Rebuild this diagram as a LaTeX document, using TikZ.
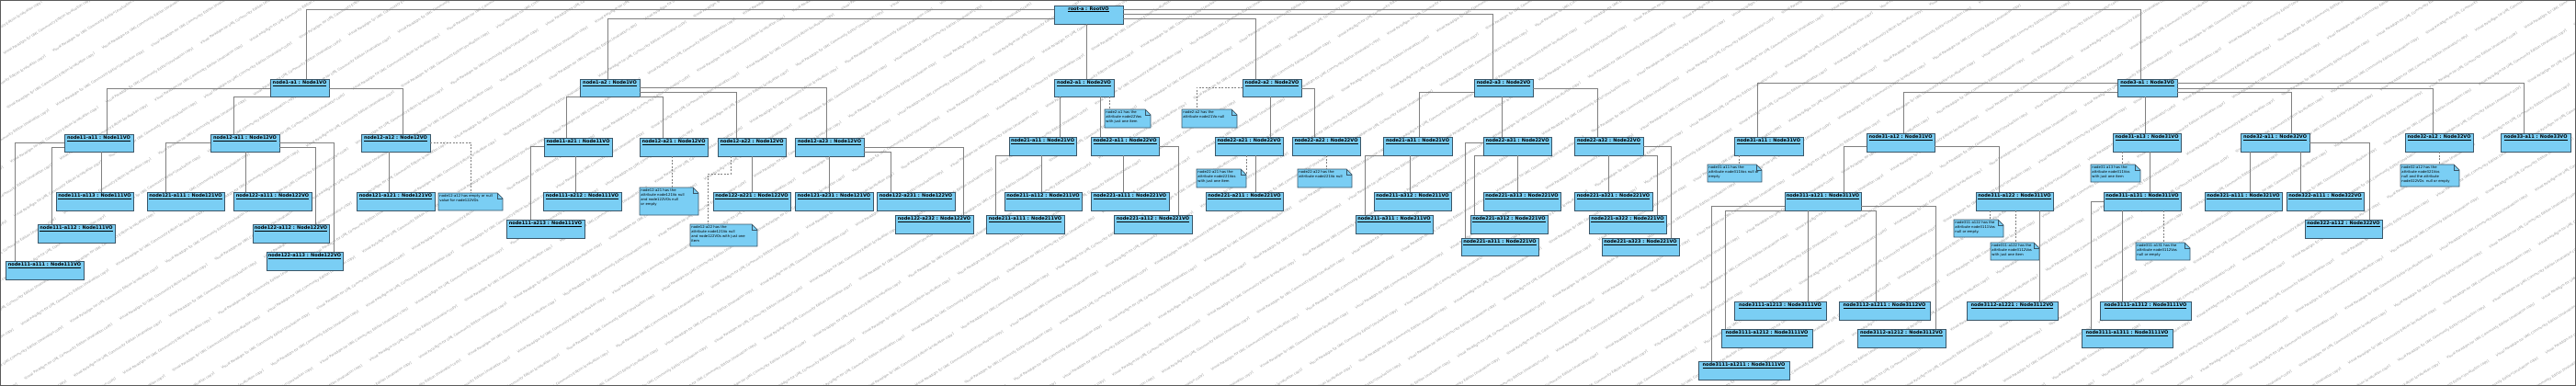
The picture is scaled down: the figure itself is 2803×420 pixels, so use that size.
\documentclass[tikz,border=0pt]{standalone}
\usepackage{fontspec}
\setmainfont{DejaVu Sans}
\definecolor{objfill}{RGB}{122,206,244}
\definecolor{objline}{RGB}{58,86,104}
\definecolor{connline}{RGB}{128,128,128}
\definecolor{wmark}{RGB}{150,150,150}
\definecolor{frameline}{RGB}{90,90,90}
\tikzset{
  objbox/.style={anchor=north west, draw=objline, fill=objfill, line width=0.8pt, inner sep=0pt, outer sep=0pt},
  objlbl/.style={anchor=north, inner sep=0pt, yshift=-1.3pt, font=\bfseries\fontsize{5}{6}\selectfont},
  notebg/.style={anchor=north west, inner sep=0pt, outer sep=0pt},
  notelbl/.style={anchor=north west, inner sep=0pt, xshift=1.2pt, yshift=-1.3pt, align=left, font=\fontsize{3.8}{5}\selectfont},
  noteshape/.style={draw=objline, fill=objfill, line width=0.7pt},
  conn/.style={draw=connline, line width=0.9pt},
  notelink/.style={draw=connline, line width=0.8pt, dash pattern=on 2pt off 1.5pt},
  wm/.style={rotate=32, anchor=west, inner sep=0pt, text=wmark, font=\fontsize{3.6}{4}\selectfont}
}
\newcommand\mkobj[6]{%
  \node[objbox, minimum width={(#4-#2)*1pt}, minimum height={(#5-#3)*1pt}] (#1) at (#2,#3) {};
  \node[objlbl] (#1-t) at (#1.north) {\underline{#6}};
}
\newcommand\mknote[6]{%
  \node[notebg, minimum width={(#4-#2)*1pt}, minimum height={(#5-#3)*1pt}] (#1) at (#2,#3) {};
  \path[noteshape] (#1.north west) -- ([xshift=-6pt]#1.north east) -- ([yshift=-6pt]#1.north east) -- (#1.south east) -- (#1.south west) -- cycle;
  \draw[objline, line width=0.5pt] ([xshift=-6pt]#1.north east) -- ([xshift=-6pt,yshift=-6pt]#1.north east) -- ([yshift=-6pt]#1.north east);
  \node[notelbl] (#1-t) at (#1.north west) {#6};
}
\begin{document}
\begin{tikzpicture}[x=1pt, y=-1pt]
\useasboundingbox (0,0) rectangle (2803,420);
\fill[white] (0,0) rectangle (2803,420);
% watermark
\begin{scope}
\clip (1,1) rectangle (2802,419);
\foreach \r in {0,...,70} {
  \foreach \c in {-4,...,21} {
    \pgfmathsetmacro\uu{\c*122 + mod(\r*47,122)}
    \pgfmathsetmacro\vv{\r*26}
    \pgfmathsetmacro\px{0.848*\uu + 0.530*\vv}
    \pgfmathsetmacro\py{-0.530*\uu + 0.848*\vv}
    \node[wm] (wm-\r-\c) at (\px,\py) {Visual Paradigm for UML Community Edition [evaluation copy]};
  }
}
\end{scope}
\draw[frameline, line width=1pt] (0.5,0.5) rectangle (2802.5,419.5);

% ---------------- objects ----------------
\mkobj{root}{1147}{6}{1222}{26}{root-a : RootVO}
\mkobj{n1a1}{294}{86}{358}{105}{node1-a1 : Node1VO}
\mkobj{n1a2}{631}{86}{696}{105}{node1-a2 : Node1VO}
\mkobj{n2a1}{1147}{86}{1212}{105}{node2-a1 : Node2VO}
\mkobj{n2a2}{1352}{86}{1416}{105}{node2-a2 : Node2VO}
\mkobj{n2a3}{1604}{86}{1668}{105}{node2-a3 : Node2VO}
\mkobj{n3a1}{2304}{86}{2369}{105}{node3-a1 : Node3VO}

\mkobj{n11a11}{70}{146}{145}{165}{node11-a11 : Node11VO}
\mkobj{n12a11}{229}{146}{304}{165}{node12-a11 : Node12VO}
\mkobj{n12a12}{393}{146}{468}{165}{node12-a12 : Node12VO}
\mkobj{n111a113}{61}{209}{145}{229}{node111-a113 : Node111VO}
\mkobj{n111a112}{41}{244}{125}{264}{node111-a112 : Node111VO}
\mkobj{n111a111}{6}{284}{91}{304}{node111-a111 : Node111VO}
\mkobj{n121a111}{160}{209}{244}{229}{node121-a111 : Node121VO}
\mkobj{n122a111}{254}{209}{339}{229}{node122-a111 : Node122VO}
\mkobj{n122a112}{275}{244}{358}{264}{node122-a112 : Node122VO}
\mkobj{n122a113}{290}{274}{373}{294}{node122-a113 : Node122VO}
\mkobj{n121a121}{388}{209}{473}{229}{node121-a121 : Node121VO}

\mkobj{n11a21}{592}{150}{666}{170}{node11-a21 : Node11VO}
\mkobj{n12a21}{696}{150}{770}{170}{node12-a21 : Node12VO}
\mkobj{n12a22}{781}{150}{855}{170}{node12-a22 : Node12VO}
\mkobj{n12a23}{865}{150}{940}{170}{node12-a23 : Node12VO}
\mkobj{n111a212}{591}{209}{676}{229}{node111-a212 : Node111VO}
\mkobj{n111a213}{551}{239}{636}{259}{node111-a213 : Node111VO}
\mkobj{n122a221}{776}{209}{860}{229}{node122-a221 : Node122VO}
\mkobj{n121a231}{865}{209}{950}{229}{node121-a231 : Node121VO}
\mkobj{n122a231}{954}{209}{1039}{229}{node122-a231 : Node122VO}
\mkobj{n122a232}{974}{234}{1059}{254}{node122-a232 : Node122VO}

\mkobj{n21a11}{1098}{149}{1171}{169}{node21-a11 : Node21VO}
\mkobj{n22a11}{1187}{149}{1261}{169}{node22-a11 : Node22VO}
\mkobj{n211a112}{1093}{209}{1177}{229}{node211-a112 : Node211VO}
\mkobj{n211a111}{1073}{234}{1158}{254}{node211-a111 : Node211VO}
\mkobj{n221a111}{1187}{209}{1272}{229}{node221-a111 : Node221VO}
\mkobj{n221a112}{1212}{234}{1297}{254}{node221-a112 : Node221VO}

\mkobj{n22a21}{1322}{149}{1396}{169}{node22-a21 : Node22VO}
\mkobj{n22a22}{1406}{149}{1480}{169}{node22-a22 : Node22VO}
\mkobj{n221a211}{1312}{209}{1396}{229}{node221-a211 : Node221VO}

\mkobj{n21a31}{1505}{149}{1580}{169}{node21-a31 : Node21VO}
\mkobj{n22a31}{1614}{149}{1688}{169}{node22-a31 : Node22VO}
\mkobj{n22a32}{1713}{149}{1788}{169}{node22-a32 : Node22VO}
\mkobj{n211a312}{1495}{209}{1579}{229}{node211-a312 : Node211VO}
\mkobj{n211a311}{1475}{234}{1559}{254}{node211-a311 : Node211VO}
\mkobj{n221a313}{1614}{209}{1698}{229}{node221-a313 : Node221VO}
\mkobj{n221a312}{1600}{234}{1684}{254}{node221-a312 : Node221VO}
\mkobj{n221a311}{1590}{259}{1674}{278}{node221-a311 : Node221VO}
\mkobj{n221a321}{1713}{209}{1798}{229}{node221-a321 : Node221VO}
\mkobj{n221a322}{1729}{234}{1813}{254}{node221-a322 : Node221VO}
\mkobj{n221a323}{1743}{259}{1827}{278}{node221-a323 : Node221VO}

\mkobj{n31a11}{1887}{149}{1962}{169}{node31-a11 : Node31VO}
\mkobj{n31a12}{2031}{145}{2105}{165}{node31-a12 : Node31VO}
\mkobj{n31a13}{2299}{145}{2373}{165}{node31-a13 : Node31VO}
\mkobj{n32a11}{2438}{145}{2513}{165}{node32-a11 : Node32VO}
\mkobj{n32a12}{2617}{145}{2691}{165}{node32-a12 : Node32VO}
\mkobj{n33a11}{2721}{145}{2797}{165}{node33-a11 : Node33VO}
\mkobj{n311a121}{1942}{209}{2025}{229}{node311-a121 : Node311VO}
\mkobj{n311a122}{2150}{209}{2234}{229}{node311-a122 : Node311VO}
\mkobj{n311a131}{2289}{209}{2373}{229}{node311-a131 : Node311VO}
\mkobj{n321a111}{2399}{209}{2483}{229}{node321-a111 : Node321VO}
\mkobj{n322a111}{2488}{209}{2572}{229}{node322-a111 : Node322VO}
\mkobj{n322a112}{2508}{239}{2592}{259}{node322-a112 : Node322VO}
\mkobj{n3111a1213}{1887}{328}{1987}{348}{node3111-a1213 : Node3111VO}
\mkobj{n3112a1211}{2001}{328}{2100}{348}{node3112-a1211 : Node3112VO}
\mkobj{n3112a1221}{2140}{328}{2239}{348}{node3112-a1221 : Node3112VO}
\mkobj{n3111a1312}{2285}{328}{2384}{348}{node3111-a1312 : Node3111VO}
\mkobj{n3111a1212}{1873}{358}{1972}{378}{node3111-a1212 : Node3111VO}
\mkobj{n3112a1212}{2021}{358}{2117}{378}{node3112-a1212 : Node3112VO}
\mkobj{n3111a1311}{2265}{358}{2364}{378}{node3111-a1311 : Node3111VO}
\mkobj{n3111a1211}{1848}{393}{1947}{413}{node3111-a1211 : Node3111VO}

% ---------------- notes ----------------
\mknote{nt1}{477}{210}{547}{229}{node12-a12 has empty or null\\value for node122VOs}
\mknote{nt2}{696}{204}{760}{234}{node12-a21 has the\\attribute node121Vo null\\and node122VOs null\\or empty}
\mknote{nt3}{751}{244}{824}{268}{node12-a22 has the\\attribute node121Vo null\\and node122VOs with just one\\item}
\mknote{nt4}{1202}{119}{1252}{139}{node2-a1 has the\\attribute node22Vos\\with just one item}
\mknote{nt5}{1286}{119}{1346}{139}{node2-a2 has the\\attribute node21Vo null}
\mknote{nt6}{1302}{184}{1356}{204}{node22-a21 has the\\attribute node221Vos\\with just one item}
\mknote{nt7}{1412}{184}{1471}{204}{node22-a22 has the\\attribute node221Vo null}
\mknote{nt8}{1858}{179}{1917}{198}{node31-a11 has the\\attribute node311Vos null or\\empty}
\mknote{nt9}{2126}{239}{2180}{258}{node311-a122 has the\\attribute node3111Vos\\null or empty.}
\mknote{nt10}{2166}{264}{2219}{283}{node311-a122 has the\\attribute node3112Vos\\with just one item}
\mknote{nt11}{2275}{179}{2329}{198}{node31-a13 has the\\attribute node311Vos\\with just one item}
\mknote{nt12}{2324}{264}{2383}{283}{node311-a131 has the\\attribute node3112Vos\\null or empty}
\mknote{nt13}{2612}{179}{2676}{203}{node32-a12 has the\\attribute node321Vos\\null and the attribute\\node322VOs~ null or empty}

% ---------------- connectors ----------------
% root
\draw[conn] (root.west |- 0,10) -| (333,0 |- n1a1.north);
\draw[conn] (root.west |- 0,20) -| (661,0 |- n1a2.north);
\draw[conn] (1182,0 |- root.south) -- (1182,0 |- n2a1.north);
\draw[conn] (root.east |- 0,20) -| (1366,0 |- n2a2.north);
\draw[conn] (root.east |- 0,15) -| (1624,0 |- n2a3.north);
\draw[conn] (root.east |- 0,10) -| (2329,0 |- n3a1.north);
% node1-a1
\draw[conn] (n1a1.west |- 0,96) -| (116,0 |- n11a11.north);
\draw[conn] (n1a1.south west) -| (254,0 |- n12a11.north);
\draw[conn] (n1a1.east |- 0,96) -| (438,0 |- n12a12.north);
\draw[conn] (110,0 |- n11a11.south) -- (110,0 |- n111a113.north);
\draw[conn] (n11a11.west |- 0,160) -| (56,0 |- n111a112.north);
\draw[conn] (n11a11.west |- 0,155) -| (16,0 |- n111a111.north);
\draw[conn] (n12a11.west |- 0,155) -| (180,0 |- n121a111.north);
\draw[conn] (267,0 |- n12a11.south) -- (267,0 |- n122a111.north);
\draw[conn] (n12a11.east |- 0,160) -| (343,0 |- n122a112.north);
\draw[conn] (n12a11.east |- 0,155) -| (363,0 |- n122a113.north);
\draw[conn] (423,0 |- n12a12.south) -- (423,0 |- n121a121.north);
\draw[notelink] (n12a12.east |- 0,155) -| (512,0 |- nt1.north);
% node1-a2
\draw[conn] (n1a2.south west) -| (616,0 |- n11a21.north);
\draw[conn] (n1a2.south east) -| (721,0 |- n12a21.north);
\draw[conn] (n1a2.east |- 0,100) -| (801,0 |- n12a22.north);
\draw[conn] (n1a2.east |- 0,95) -| (899,0 |- n12a23.north);
\draw[conn] (626,0 |- n11a21.south) -- (626,0 |- n111a212.north);
\draw[conn] (n11a21.west |- 0,159) -| (577,0 |- n111a213.north);
\draw[notelink] (731,0 |- n12a21.south) -- (731,0 |- nt2.north);
\draw[conn] (818,0 |- n12a22.south) -- (818,0 |- n122a221.north);
\draw[notelink] (795,0 |- n12a22.south) -- (795,189) -| (770,0 |- nt3.north);
\draw[conn] (902,0 |- n12a23.south) -- (902,0 |- n121a231.north);
\draw[conn] (n12a23.east |- 0,165) -| (969,0 |- n122a231.north);
\draw[conn] (n12a23.east |- 0,160) -| (1048,0 |- n122a232.north);
% node2-a1
\draw[conn] (1153,0 |- n2a1.south) -- (1153,0 |- n21a11.north);
\draw[conn] (1197,0 |- n2a1.south) -- (1197,0 |- n22a11.north);
\draw[notelink] (1207,0 |- n2a1.south) -- (1207,0 |- nt4.north);
\draw[conn] (1133,0 |- n21a11.south) -- (1133,0 |- n211a112.north);
\draw[conn] (n21a11.south west) -| (1083,0 |- n211a111.north);
\draw[conn] (1222,0 |- n22a11.south) -- (1222,0 |- n221a111.north);
\draw[conn] (n22a11.east |- 0,159) -| (1282,0 |- n221a112.north);
% node2-a2
\draw[notelink] (n2a2.west |- 0,95) -| (1302,0 |- nt5.north);
\draw[conn] (1382,0 |- n2a2.south) -- (1382,0 |- n22a21.north);
\draw[conn] (n2a2.east |- 0,96) -| (1430,0 |- n22a22.north);
\draw[notelink] (1356,0 |- n22a21.south) -- (nt6.north east |- 0,190);
\draw[conn] (1366,0 |- n22a21.south) -- (1366,0 |- n221a211.north);
\draw[notelink] (1443,0 |- n22a22.south) -- (1443,0 |- nt7.north);
% node2-a3
\draw[conn] (n2a3.west |- 0,100) -| (1544,0 |- n21a31.north);
\draw[conn] (1634,0 |- n2a3.south) -- (1634,0 |- n22a31.north);
\draw[conn] (n2a3.east |- 0,96) -| (1738,0 |- n22a32.north);
\draw[conn] (1534,0 |- n21a31.south) -- (1534,0 |- n211a312.north);
\draw[conn] (n21a31.south west) -| (1485,0 |- n211a311.north);
\draw[conn] (n22a31.west |- 0,155) -| (1594,0 |- n221a311.north);
\draw[conn] (n22a31.south west) -| (1604,0 |- n221a312.north);
\draw[conn] (1651,0 |- n22a31.south) -- (1651,0 |- n221a313.north);
\draw[conn] (1750,0 |- n22a32.south) -- (1750,0 |- n221a321.north);
\draw[conn] (n22a32.south east) -| (1803,0 |- n221a322.north);
\draw[conn] (n22a32.east |- 0,159) -| (1818,0 |- n221a323.north);
% node3-a1
\draw[conn] (n3a1.west |- 0,90) -| (1912,0 |- n31a11.north);
\draw[conn] (n3a1.west |- 0,100) -| (2071,0 |- n31a12.north);
\draw[conn] (2334,0 |- n3a1.south) -- (2334,0 |- n31a13.north);
\draw[conn] (n3a1.east |- 0,100) -| (2493,0 |- n32a11.north);
\draw[conn] (n3a1.east |- 0,96) -| (2647,0 |- n32a12.north);
\draw[conn] (n3a1.east |- 0,90) -| (2746,0 |- n33a11.north);
\draw[notelink] (1892,0 |- n31a11.south) -- (1892,0 |- nt8.north);
\draw[conn] (n31a12.west |- 0,159) -| (2006,0 |- n311a121.north);
\draw[conn] (n31a12.east |- 0,159) -| (2175,0 |- n311a122.north);
\draw[conn] (n311a121.west |- 0,224) -| (1862,0 |- n3111a1211.north);
\draw[conn] (n311a121.south west) -| (1877,0 |- n3111a1212.north);
\draw[conn] (1967,0 |- n311a121.south) -- (1967,0 |- n3111a1213.north);
\draw[conn] (n311a121.south east) -| (2041,0 |- n3112a1211.north);
\draw[conn] (n311a121.east |- 0,224) -| (2106,0 |- n3112a1212.north);
\draw[notelink] (2165,0 |- n311a122.south) -- (2165,0 |- nt9.north);
\draw[notelink] (2193,0 |- n311a122.south) -- (2193,0 |- nt10.north);
\draw[conn] (2219,0 |- n311a122.south) -- (2219,0 |- n3112a1221.north);
\draw[notelink] (2309,0 |- n31a13.south) -- (2309,0 |- nt11.north);
\draw[conn] (2339,0 |- n31a13.south) -- (2339,0 |- n311a131.north);
\draw[notelink] (2354,0 |- n311a131.south) -- (2354,0 |- nt12.north);
\draw[conn] (2309,0 |- n311a131.south) -- (2309,0 |- n3111a1312.north);
\draw[conn] (n311a131.west |- 0,219) -| (2275,0 |- n3111a1311.north);
\draw[conn] (2448,0 |- n32a11.south) -- (2448,0 |- n321a111.north);
\draw[conn] (2503,0 |- n32a11.south) -- (2503,0 |- n322a111.north);
\draw[conn] (n32a11.east |- 0,155) -| (2578,0 |- n322a112.north);
\draw[notelink] (2654,0 |- n32a12.south) -- (2654,0 |- nt13.north);
\end{tikzpicture}
\end{document}
